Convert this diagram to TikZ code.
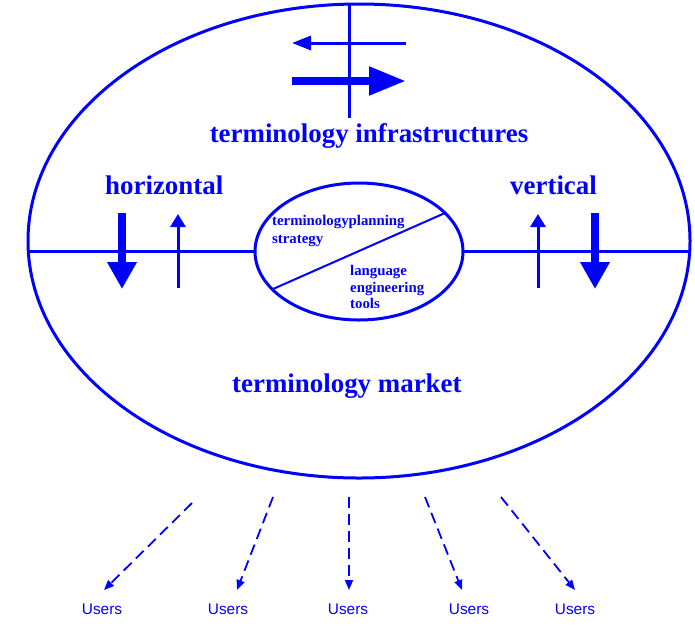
\documentclass[tikz,border=0pt]{standalone}
\usepackage{fontspec}
\setmainfont{Liberation Serif}
\newfontfamily\usersfont{Liberation Sans}
\usetikzlibrary{shapes.geometric,arrows.meta}
\definecolor{diagblue}{RGB}{0,0,255}
\tikzset{
  ring/.style={draw=diagblue, line width=3pt, ellipse, inner sep=0pt, outer sep=0pt},
  bigLabel/.style={text=diagblue, font=\fontsize{26.9}{30}\selectfont\bfseries, inner sep=0pt},
  smallLabel/.style={text=diagblue, font=\fontsize{14.8}{17}\selectfont\bfseries, inner sep=0pt, anchor=base west},
  userLabel/.style={text=diagblue, font=\usersfont\fontsize{15.4}{17}\selectfont, inner sep=0pt, anchor=base},
  plainLine/.style={draw=diagblue, line width=3pt},
  thinArrow/.style={draw=diagblue, line width=3pt, -{Triangle[length=13pt,width=15pt]}},
  thinArrowLong/.style={draw=diagblue, line width=3pt, -{Triangle[length=19pt,width=14pt]}},
  thickArrow/.style={draw=diagblue, line width=8pt, -{Triangle[length=27pt,width=28pt]}},
  thickArrowLong/.style={draw=diagblue, line width=8pt, -{Triangle[length=37pt,width=27pt]}},
  dashArrow/.style={draw=diagblue, line width=1.8pt, dash pattern=on 11pt off 6pt, -{Triangle[length=10pt,width=8pt]}}
}
\begin{document}
\begin{tikzpicture}[x=1pt,y=-1pt]
\useasboundingbox (0,0) rectangle (695,625);

% ellipses
\node[ring, minimum width=662pt, minimum height=474pt] (outer) at (359,241) {};
\node[ring, minimum width=208pt, minimum height=137pt] (inner) at (359,251.5) {};

% horizontal line
\draw[plainLine] (outer.west |- inner.west) -- (inner.west);
\draw[plainLine] (inner.east) -- (outer.east |- inner.east);

% vertical line at top
\coordinate (vtop) at (349,5);
\coordinate (vbot) at (349,118);
\draw[plainLine] (vtop) -- (vbot);

% diagonal in inner ellipse
\coordinate (dA) at (273,289);
\coordinate (dB) at (445,213);
\draw[draw=diagblue, line width=2pt] (dA) -- (dB);

% top arrows
\coordinate (t1s) at (406,43);
\coordinate (t1e) at (292,43);
\draw[thinArrowLong] (t1s) -- (t1e);
\coordinate (t2s) at (292,81);
\coordinate (t2e) at (406,81);
\draw[thickArrowLong] (t2s) -- (t2e);

% left arrows
\coordinate (l1s) at (122,213);
\coordinate (l1e) at (122,289);
\draw[thickArrow] (l1s) -- (l1e);
\coordinate (l2s) at (178,288);
\coordinate (l2e) at (178,214);
\draw[thinArrow] (l2s) -- (l2e);

% right arrows
\coordinate (r1s) at (538,288);
\coordinate (r1e) at (538,214);
\draw[thinArrow] (r1s) -- (r1e);
\coordinate (r2s) at (595,213);
\coordinate (r2e) at (595,289);
\draw[thickArrow] (r2s) -- (r2e);

% big labels
\node[bigLabel, anchor=base] (infra) at (369,142) {terminology infrastructures};
\node[bigLabel, anchor=base west] (horiz) at (105,194) {horizontal};
\node[bigLabel, anchor=base west] (vert) at (510,194) {vertical};
\node[bigLabel, anchor=base west] (market) at (232,392) {terminology market};

% small labels
\node[smallLabel] (plan1) at (272,225) {terminologyplanning};
\node[smallLabel] (plan2) at (272,243) {strategy};
\node[smallLabel] (lang1) at (350,275) {language};
\node[smallLabel] (lang2) at (350,292) {engineering};
\node[smallLabel] (lang3) at (350,308) {tools};

% users
\node[userLabel] (u1) at (102,614) {Users};
\node[userLabel] (u2) at (228,614) {Users};
\node[userLabel] (u3) at (348,614) {Users};
\node[userLabel] (u4) at (469,614) {Users};
\node[userLabel] (u5) at (575,614) {Users};

\coordinate (s1) at (192,503); \coordinate (e1) at (104,590);
\coordinate (s2) at (273,497); \coordinate (e2) at (237,590);
\coordinate (s3) at (349,497); \coordinate (e3) at (349,590);
\coordinate (s4) at (425,497); \coordinate (e4) at (462,590);
\coordinate (s5) at (501,497); \coordinate (e5) at (575,590);
\draw[dashArrow] (s1) -- (e1);
\draw[dashArrow] (s2) -- (e2);
\draw[dashArrow] (s3) -- (e3);
\draw[dashArrow] (s4) -- (e4);
\draw[dashArrow] (s5) -- (e5);
\end{tikzpicture}
\end{document}
